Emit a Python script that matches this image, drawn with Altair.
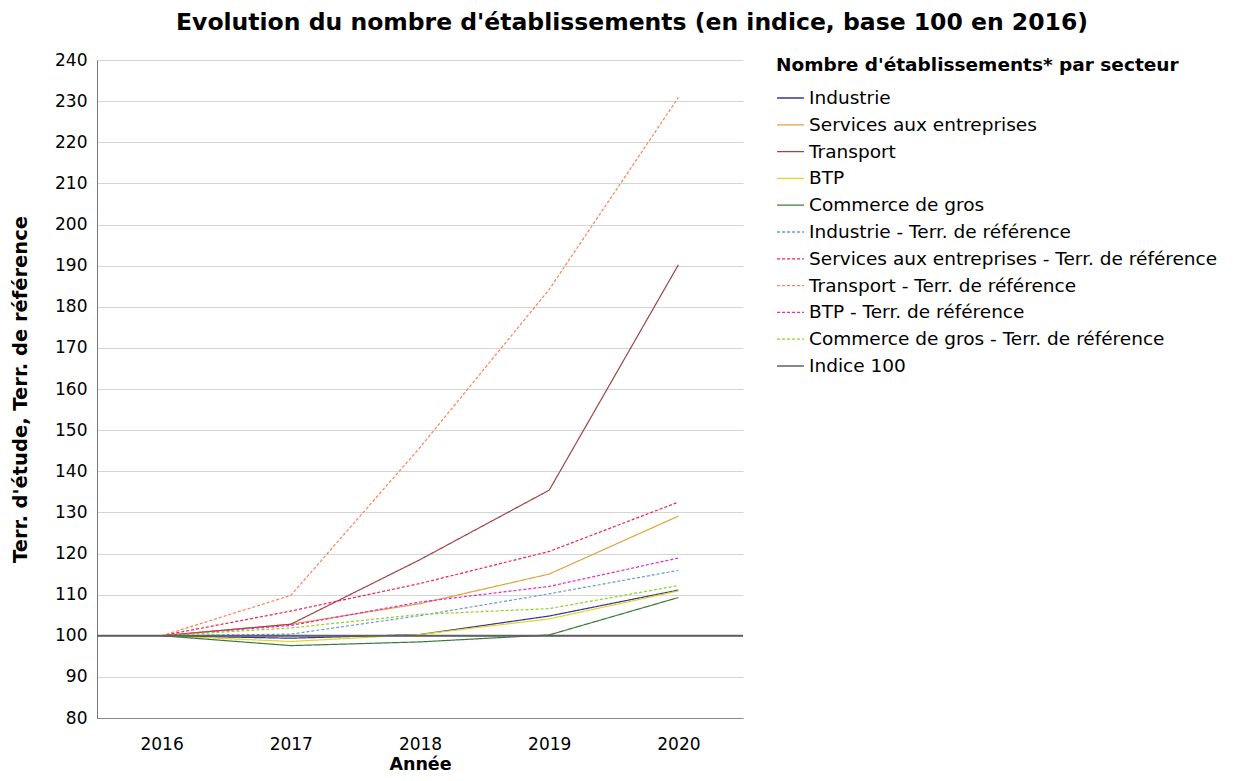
import altair as alt
import pandas as pd

years = ["2016", "2017", "2018", "2019", "2020"]

series_names = [
    "Industrie",
    "Services aux entreprises",
    "Transport",
    "BTP",
    "Commerce de gros",
    "Industrie - Terr. de référence",
    "Services aux entreprises - Terr. de référence",
    "Transport - Terr. de référence",
    "BTP - Terr. de référence",
    "Commerce de gros - Terr. de référence",
    "Indice 100",
]

industrie = [100, 99.4, 100.3, 104.8, 111.1]
services = [100, 102.8, 107.8, 115.0, 129.1]
transport = [100, 102.8, 118.5, 135.4, 190.2]
btp = [100, 98.6, 100.3, 104.1, 110.9]
commerce = [100, 97.6, 98.5, 100.2, 109.3]
industrie_ref = [100, 100.4, 104.9, 110.2, 115.9]
services_ref = [100, 106.0, 112.7, 120.5, 132.5]
transport_ref = [100, 109.8, 145.8, 184.2, 230.9]
btp_ref = [100, 102.5, 108.2, 112.0, 118.9]
commerce_ref = [100, 101.9, 105.2, 106.6, 112.2]
indice_100 = [100]

colors = [
    "#333399", "#DDA33F", "#A04545", "#E0D820", "#3C7A3C",
    "#6A9AD8", "#FF1A4D", "#FF8050", "#F020C8", "#8CD420",
    "#606060",
]
dashes = [[1, 0]] * 5 + [[3, 2]] * 5 + [[1, 0]]

all_values = [industrie, services, transport, btp, commerce,
              industrie_ref, services_ref, transport_ref, btp_ref, commerce_ref]

rows = []
for name, vals in zip(series_names[:10], all_values):
    for yr, v in zip(years, vals):
        rows.append({"series": name, "year": yr, "value": v})
df = pd.DataFrame(rows)
idx = pd.DataFrame({"series": ["Indice 100"], "value": indice_100})

FONT = "DejaVu Sans"

color_scale = alt.Scale(domain=series_names, range=colors)
dash_scale = alt.Scale(domain=series_names, range=dashes)

legend = alt.Legend(
    title="Nombre d'établissements* par secteur",
    orient="none", legendX=679, legendY=-4,
    symbolType="stroke", symbolSize=720, symbolStrokeWidth=1.3,
    labelFontSize=18.5, labelFont=FONT, labelColor="#000000",
    titleFontSize=18.5, titleFont=FONT, titleFontWeight="bold", titleColor="#000000",
    rowPadding=2.8, titlePadding=9, labelLimit=600, titleLimit=600, labelOffset=4,
)

x_enc = alt.X(
    "year:N", sort=years,
    scale=alt.Scale(type="point", padding=0.5),
    axis=alt.Axis(title="Année", labelAngle=0, ticks=False, grid=False,
                  labelPadding=18, titlePadding=3, titleFontSize=17.5,
                  domainColor="#888888"),
)
y_enc = alt.Y(
    "value:Q",
    scale=alt.Scale(domain=[80, 240], nice=False, zero=False),
    axis=alt.Axis(title="Terr. d'étude, Terr. de référence",
                  values=list(range(80, 250, 10)), ticks=False,
                  labelPadding=10, titlePadding=24, titleFontSize=19.5,
                  domainColor="#777777", gridColor="#d4d4d4"),
)

lines = alt.Chart(df).mark_line(strokeWidth=1.2).encode(
    x=x_enc,
    y=y_enc,
    color=alt.Color("series:N", scale=color_scale, legend=legend, sort=series_names),
    strokeDash=alt.StrokeDash("series:N", scale=dash_scale, legend=legend, sort=series_names),
)

rule = alt.Chart(idx).mark_rule(strokeWidth=1.8).encode(
    y=alt.Y("value:Q"),
    color=alt.Color("series:N", scale=color_scale, legend=legend, sort=series_names),
    strokeDash=alt.StrokeDash("series:N", scale=dash_scale, legend=legend, sort=series_names),
)

chart = alt.layer(lines, rule).properties(
    width=646, height=658,
    title=alt.TitleParams(
        "Evolution du nombre d'établissements (en indice, base 100 en 2016)",
        anchor="middle", dx=212, offset=17, fontSize=23.5, font=FONT,
        fontWeight="bold", color="#000000",
    ),
    autosize="none",
    padding={"left": 89, "top": 52, "right": 483, "bottom": 55},
).configure_axis(
    labelFont=FONT, labelFontSize=17, labelColor="#000000",
    titleFont=FONT, titleFontWeight="bold", titleColor="#000000",
).configure_view(stroke=None)

chart.save("out.html", embed_options={"renderer": "svg", "actions": False})
